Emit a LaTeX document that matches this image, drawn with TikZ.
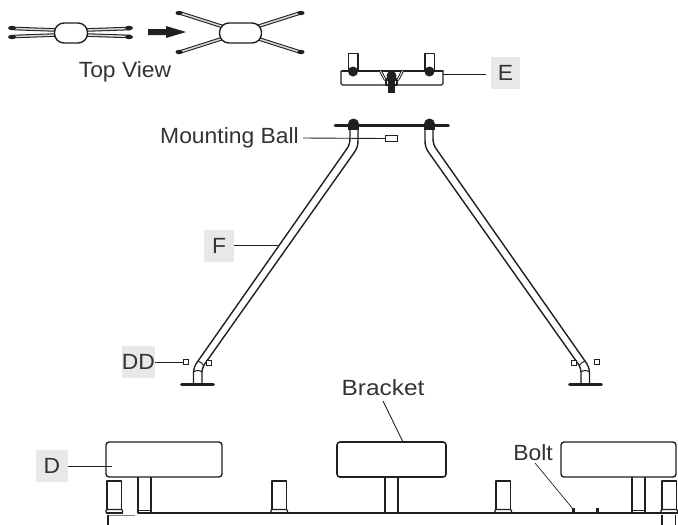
\documentclass[tikz,border=0pt]{standalone}
\usepackage{fontspec}
\setmainfont{Liberation Sans}
\newfontfamily\capfont[FakeStretch=1.04]{Liberation Sans}
\newfontfamily\widefont[FakeStretch=1.11]{Liberation Sans}
\definecolor{ink}{HTML}{231F20}
\definecolor{txt}{HTML}{333333}
\definecolor{tag}{HTML}{E7E8EA}
\tikzset{
  x=1pt,y=-1pt,
  line/.style={draw=ink,line width=1.4pt,line join=round},
  thin leader/.style={draw=ink,line width=0.9pt},
  bar/.style={draw=ink,line width=2.6pt,line cap=round},
  blob/.style={fill=ink,draw=none},
  tagbox/.style={fill=tag,text=txt,font=\fontsize{22}{22}\capfont,inner sep=0pt,anchor=center},
  caption/.style={text=txt,font=\fontsize{22}{22}\capfont,inner sep=0pt},
  tick/.style={draw=ink,fill=white,line width=1.1pt},
  arm/.style={draw=ink,line width=3.6pt,line cap=round},
  armin/.style={draw=white!70!gray,line width=1.5pt},
  pad/.style={line,fill=white,rounded corners=3pt}
}
\newcommand{\tubepart}{%
  \draw[line] (350,125)--(350,138) .. controls (350,143) and (349,146) .. (346,150)--(198,361) .. controls (195,365) and (194,368) .. (193.5,372)--(193.5,384);
  \draw[line] (358,125)--(358,140) .. controls (358,146) and (357,148) .. (354.6,152)--(204,365) .. controls (203,368) and (202,369) .. (202,372)--(202,384);
  \draw[line,line width=1pt] (193.5,372) .. controls (196,370) and (200,370) .. (202,372);
  \draw[line,line width=1pt] (198,361) .. controls (201,362) and (203,364) .. (204,366);
  \draw[bar] (181.5,384.5)--(213.5,384.5);
  \fill[blob] (353.5,124) circle[radius=5.5];
  \fill[blob] (348.2,124) rectangle (358.8,129.5);
  \node[tick,minimum width=4.5pt,minimum height=4.5pt,inner sep=0pt] at (209,363) {};
  \node[tick,minimum width=4.5pt,minimum height=4.5pt,inner sep=0pt] at (186,362) {};
}
\newcommand{\stud}[1]{%
  \begin{scope}[shift={(#1,0)}]
    \draw[line] (0,510)--(0,481)--(14.5,481)--(14.5,510);
    \draw[line,fill=white,rounded corners=1pt] (-1,509.5) rectangle (15.5,513);
    \fill[blob] (-1,511.5) rectangle (15.5,513.5);
  \end{scope}
}
\newcommand{\sarm}[2]{\draw[arm] #1--#2; \draw[armin] #1--#2;}
\begin{document}
\begin{tikzpicture}
\useasboundingbox (0,0) rectangle (678,525);
% top view, folded
\sarm{(56,30)}{(14,28.5)}\sarm{(56,35)}{(14,36.5)}\sarm{(86,30)}{(130,28.5)}\sarm{(86,35)}{(130,36.5)}
\foreach \p in {(12,28),(12,37),(129,28),(129,37)}{\fill[blob] \p ellipse[x radius=4,y radius=2.2];}
\node[draw=ink,line width=1.4pt,fill=white,rounded corners=9.5pt,minimum width=33pt,minimum height=20pt,inner sep=0pt] (foldbody) at (71,33) {};
% arrow
\fill[blob] (148,29)--(166,29)--(166,26)--(186,32)--(166,38)--(166,35)--(148,35)--cycle;
% top view, open
\sarm{(224,27)}{(180,13)}\sarm{(224,38)}{(180,52)}\sarm{(256,27)}{(300,13)}\sarm{(256,38)}{(300,52)}
\foreach \p in {(179,13),(179,52),(301,13),(301,52)}{\fill[blob] \p ellipse[x radius=3.5,y radius=2.2];}
\node[draw=ink,line width=1.4pt,fill=white,rounded corners=9.5pt,minimum width=42pt,minimum height=20pt,inner sep=0pt] (openbody) at (240.5,33) {};
\node[caption] (topview) at (125,72) {Top View};
% assembly E
\draw[line,rounded corners=1.5pt] (341,71)--(341,85)--(443,85)--(443,70);
\draw[line] (348.5,70)--(348.5,53.5)--(358,53.5)--(358,70);
\draw[line] (425,70)--(425,53.5)--(434.5,53.5)--(434.5,70);
\draw[bar] (342,71)--(442,71);
\fill[blob] (353,71.5) circle[radius=5];
\fill[blob] (429.5,71.5) circle[radius=5];
\draw[draw=ink,line width=2.8pt,line join=round] (380.5,71)--(385,79.5)--(398,79.5)--(402.5,71);
\draw[draw=white,line width=.8pt,line join=round] (380.5,71)--(385,79.5)--(398,79.5)--(402.5,71);
\fill[blob] (391.5,76) circle[radius=5];
\draw[line,fill=white] (386,80) rectangle (397,85);
\fill[blob] (388,80) rectangle (395,92.5);
\node[tagbox,minimum width=29pt,minimum height=32pt] (tagE) at (505.5,73) {E};
\coordinate (endE) at (443,74);
\draw[thin leader] (endE)--(486,74);
% mounting bar and tubes
\draw[bar] (335,125.5)--(448.5,125.5);
\tubepart
\begin{scope}[shift={(783,0)},xscale=-1]
\tubepart
\end{scope}
\node[caption,anchor=west] (mball) at (160,138) {Mounting Ball};
\node[tick,minimum width=12pt,minimum height=6.5pt,inner sep=0pt] (ballpart) at (391.5,138.5) {};
\draw[thin leader] (303,138)--(ballpart.west);
% F
\node[tagbox,minimum width=30pt,minimum height=32pt] (tagF) at (219,246) {F};
\coordinate (endF) at (279,245);
\draw[thin leader] (tagF.east|-endF)--(endF);
% DD
\node[tagbox,minimum width=33pt,minimum height=32pt] (tagDD) at (138.5,362) {DD};
\coordinate (endDD) at (183,362);
\draw[thin leader] (tagDD.east)--(endDD);
% base
\draw[draw=ink,line width=1.1pt] (150,513)--(662,513);
\draw[draw=gray,line width=.8pt] (108,515)--(135,515);
\draw[draw=ink,line width=1.1pt] (108,515)--(108,525);
\draw[draw=ink,line width=1.1pt] (662,515)--(662,525) (675.5,515)--(675.5,525);
\stud{107}\stud{272}\stud{496}\stud{662}
% posts
\draw[line] (138,477)--(138,513)--(151,513)--(151,477);
\draw[line] (385,477)--(385,513) (398,513)--(398,477);
\draw[line] (632,477)--(632,513)--(645,513)--(645,477);
\draw[line,line width=1pt] (139,510)--(150,510);
\draw[line,line width=1pt] (633,510)--(644,510);
\draw[draw=ink,line width=2pt] (151,512.5)--(157,512.5) (626,512.5)--(632,512.5);
% pads
\node[pad,minimum width=116pt,minimum height=35pt,inner sep=0pt] (padL) at (164,459.5) {};
\node[pad,line width=1.6pt,minimum width=109pt,minimum height=35pt,inner sep=0pt] (padM) at (391.5,459.5) {};
\node[pad,minimum width=115pt,minimum height=35pt,inner sep=0pt] (padR) at (618.5,459.5) {};
% D
\node[tagbox,minimum width=32pt,minimum height=32pt] (tagD) at (52,466) {D};
\coordinate (endD) at (112,466);
\draw[thin leader] (tagD.east)--(endD);
% bracket
\node[caption] (bracket) at (383,388) {\widefont Bracket};
\coordinate (endB) at (403,442);
\draw[thin leader] (383,401)--(endB);
% bolt
\node[caption] (bolt) at (533,453) {Bolt};
\coordinate (boltend) at (573,509);
\draw[draw=ink,line width=.7pt] (535,463)--(boltend);
\fill[blob] (571.5,508) rectangle (575,513);
\fill[blob] (595.5,508) rectangle (599,513);
\end{tikzpicture}
\end{document}
